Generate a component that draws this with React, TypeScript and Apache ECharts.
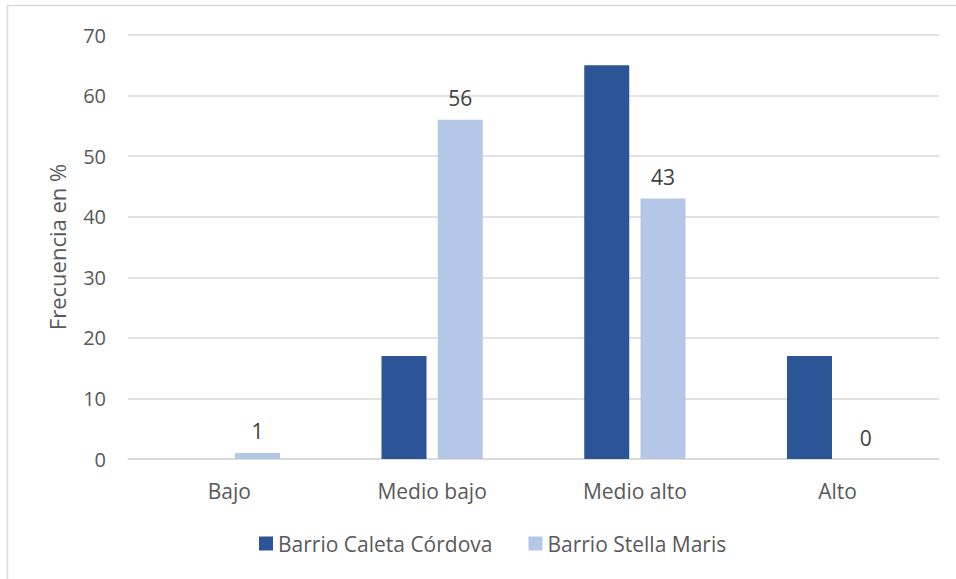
import React, { useEffect, useRef } from "react";
import * as echarts from "echarts";

// Nivel socioeconómico por barrio (frecuencia en %)
const categories = ["Bajo", "Medio bajo", "Medio alto", "Alto"];
const caletaCordova = [0, 17, 65, 17];
const stellaMaris = [1, 56, 43, 0];
const yTicks = { min: 0, max: 70, interval: 10 };

const FONT = "'Open Sans', 'Liberation Sans', sans-serif";
const TEXT = "#595959";

export default function App() {
  const ref = useRef<HTMLDivElement>(null);

  useEffect(() => {
    if (!ref.current) return;
    const chart = echarts.init(ref.current, undefined, { renderer: "svg" });
    chart.setOption({
      animation: false,
      backgroundColor: "#ffffff",
      textStyle: { fontFamily: FONT },
      graphic: [
        {
          type: "rect",
          shape: { x: 7.5, y: 5.5, width: 960, height: 590 },
          style: { fill: "none", stroke: "#D9D9D9", lineWidth: 1.5 },
          silent: true,
        },
      ],
      grid: { left: 128, right: 17, top: 35, bottom: 120, containLabel: false },
      legend: {
        bottom: 20,
        left: 254,
        itemWidth: 14,
        itemHeight: 14,
        itemGap: 36,
        icon: "rect",
        textStyle: { color: TEXT, fontSize: 21, fontFamily: FONT },
        data: ["Barrio Caleta Córdova", "Barrio Stella Maris"],
      },
      xAxis: {
        type: "category",
        data: categories,
        axisLine: { lineStyle: { color: "#D9D9D9", width: 1.5 } },
        axisTick: { show: false },
        axisLabel: { color: TEXT, fontSize: 21, margin: 21, fontFamily: FONT },
      },
      yAxis: {
        type: "value",
        min: yTicks.min,
        max: yTicks.max,
        interval: yTicks.interval,
        name: "Frecuencia en %",
        nameLocation: "middle",
        nameGap: 60,
        nameRotate: 90,
        nameTextStyle: { color: TEXT, fontSize: 22, fontFamily: FONT },
        axisLine: { show: false },
        axisTick: { show: false },
        axisLabel: { color: TEXT, fontSize: 20, margin: 22, fontFamily: FONT },
        splitLine: { lineStyle: { color: "#D9D9D9", width: 1.5 } },
      },
      series: [
        {
          name: "Barrio Caleta Córdova",
          type: "bar",
          data: caletaCordova,
          barWidth: 45,
          barGap: "25%",
          itemStyle: { color: "#2B5597" },
        },
        {
          name: "Barrio Stella Maris",
          type: "bar",
          data: stellaMaris,
          barWidth: 45,
          barGap: "25%",
          itemStyle: { color: "#B4C7E7" },
          label: {
            show: true,
            position: "top",
            distance: 11,
            color: "#404040",
            fontSize: 21,
            fontFamily: FONT,
          },
        },
      ],
    });
    return () => chart.dispose();
  }, []);

  return (
    <div
      ref={ref}
      style={{ position: "fixed", left: 0, top: 0, width: 956, height: 579 }}
    />
  );
}
